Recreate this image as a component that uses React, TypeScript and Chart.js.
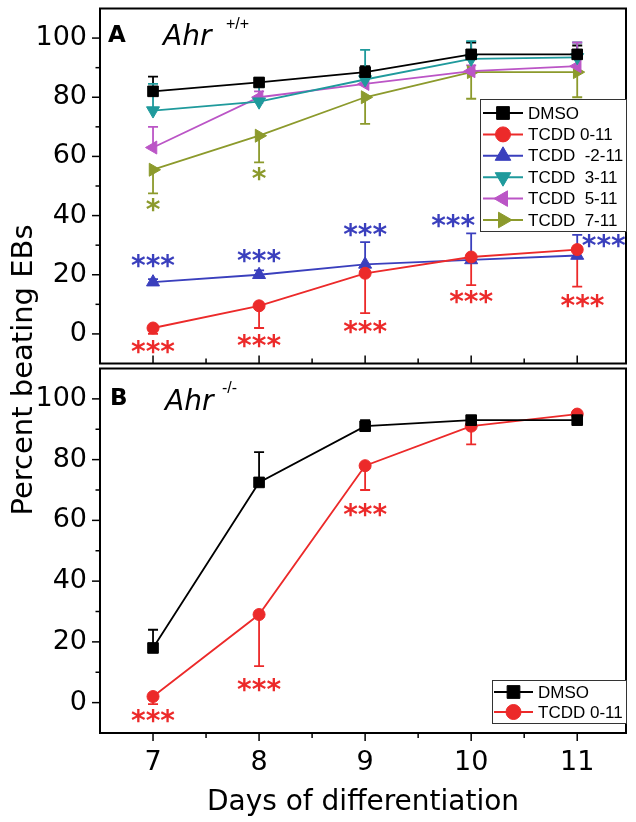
import React, { useEffect, useRef } from 'react';
import { Chart, registerables } from 'chart.js';

Chart.register(...registerables);

// ---------- data ----------
const days = [7, 8, 9, 10, 11];
const xTickLabels = ['7', '8', '9', '10', '11'];
const yTickValues = [0, 20, 40, 60, 80, 100];
const yTickLabels = ['0', '20', '40', '60', '80', '100'];

// Panel A: Ahr +/+
const dmsoA = [82, 85, 88.5, 94.5, 94.5];
const tcdd0A = [2, 9.5, 20.5, 26, 28.5];
const tcddM2A = [17.5, 20, 23.5, 25, 26.5];
const tcdd3A = [75.5, 78.5, 86, 93, 93.5];
const tcdd5A = [63, 80, 84.5, 88.8, 90.5];
const tcdd7A = [55.5, 67, 80, 88.5, 88.5];

// signed error bars (+ up, - down)
const dmsoAErr = [5, 1.5, 2, 4, 3];
const tcdd0AErr = [-2, -7.5, -13.5, -9.5, -12.5];
const tcddM2AErr = [1, 1.5, 7.5, 9, 7];
const tcdd3AErr = [9, 5, 10, 6, 5];
const tcdd5AErr = [7, 2, 2, 2, 8];
const tcdd7AErr = [-8, -9, -9, -9, -8.5];

// Panel B: Ahr -/-
const dmsoB = [18, 72.5, 91, 93, 93];
const tcdd0B = [2, 29, 78, 91, 95];
const dmsoBErr = [6, 10, 2, 1, 1];
const tcdd0BErr = [-2.5, -17, -8, -6, -1];

const legendA = ['DMSO', 'TCDD 0-11', 'TCDD  -2-11', 'TCDD  3-11', 'TCDD  5-11', 'TCDD  7-11'];
const legendB = ['DMSO', 'TCDD 0-11'];

// significance marks: text, day, value, series index
const starTextA = ['*', '*', '***', '***', '***', '***', '***', '***', '***', '***', '***', '***'];
const starDayA = [7, 8, 7, 8, 9, 9.83, 11.25, 7, 8, 9, 10, 11.05];
const starValA = [44, 54.5, 25, 27, 35.5, 38.7, 32, -4, -2, 3, 13, 11.5];
const starSerA = [5, 5, 2, 2, 2, 2, 2, 1, 1, 1, 1, 1];

const starTextB = ['***', '***', '***'];
const starDayB = [7, 8, 9];
const starValB = [-4, 6.4, 64];
const starSerB = [1, 1, 1];

// ---------- styles ----------
const FONT = 'DejaVu Sans';
const LFONT = 'Liberation Sans';
const BLACK = '#000000';
const RED = '#ec2a2a';
const BLUE = '#3a3fbd';
const TEAL = '#1f9a9c';
const MAGENTA = '#bb55c6';
const OLIVE = '#8c9a2c';

type Series = {
  label: string;
  values: number[];
  err: number[];
  color: string;
  style: 'rect' | 'circle' | 'triangle';
  rot: number;
  r: number;
};

const seriesA: Series[] = [
  { label: legendA[0], values: dmsoA, err: dmsoAErr, color: BLACK, style: 'rect', rot: 0, r: 7.5 },
  { label: legendA[1], values: tcdd0A, err: tcdd0AErr, color: RED, style: 'circle', rot: 0, r: 6 },
  { label: legendA[2], values: tcddM2A, err: tcddM2AErr, color: BLUE, style: 'triangle', rot: 0, r: 7.5 },
  { label: legendA[3], values: tcdd3A, err: tcdd3AErr, color: TEAL, style: 'triangle', rot: 180, r: 7.5 },
  { label: legendA[4], values: tcdd5A, err: tcdd5AErr, color: MAGENTA, style: 'triangle', rot: 270, r: 7.5 },
  { label: legendA[5], values: tcdd7A, err: tcdd7AErr, color: OLIVE, style: 'triangle', rot: 90, r: 7.5 },
];

const seriesB: Series[] = [
  { label: legendB[0], values: dmsoB, err: dmsoBErr, color: BLACK, style: 'rect', rot: 0, r: 7.5 },
  { label: legendB[1], values: tcdd0B, err: tcdd0BErr, color: RED, style: 'circle', rot: 0, r: 6 },
];

function drawMarker(ctx: CanvasRenderingContext2D, style: string, x: number, y: number, r: number, rot: number, color: string) {
  ctx.save();
  ctx.fillStyle = color;
  ctx.strokeStyle = color;
  ctx.lineWidth = 1;
  ctx.beginPath();
  if (style === 'rect') {
    const s = r * Math.SQRT1_2;
    ctx.rect(x - s, y - s, 2 * s, 2 * s);
  } else if (style === 'circle') {
    ctx.arc(x, y, r, 0, Math.PI * 2);
  } else {
    let a = (rot * Math.PI) / 180;
    ctx.moveTo(x + Math.sin(a) * r, y - Math.cos(a) * r);
    for (let k = 0; k < 2; k++) {
      a += (2 * Math.PI) / 3;
      ctx.lineTo(x + Math.sin(a) * r, y - Math.cos(a) * r);
    }
    ctx.closePath();
  }
  ctx.fill();
  ctx.stroke();
  ctx.restore();
}

type DecorCfg = {
  series: Series[];
  starText: string[];
  starDay: number[];
  starVal: number[];
  starSer: number[];
  xTicksInward: boolean;
  legend: { x0: number; y0: number; x1: number; y1: number; row0: number; step: number; lx0: number; lx1: number; tx: number };
  letter: string;
  letterPos: [number, number];
  genePos: [number, number];
  sup: string;
  supPos: [number, number];
};

function makeDecor(cfg: DecorCfg) {
  return {
    id: 'decor' + cfg.letter,
    beforeDatasetsDraw(chart: any) {
      const ctx: CanvasRenderingContext2D = chart.ctx;
      const xs = chart.scales.x;
      const ys = chart.scales.y;
      ctx.save();
      ctx.lineWidth = 1.8;
      cfg.series.forEach((s) => {
        ctx.strokeStyle = s.color;
        s.values.forEach((v, i) => {
          const e = s.err[i];
          const x = xs.getPixelForValue(days[i]);
          const y0 = ys.getPixelForValue(v);
          const y1 = ys.getPixelForValue(v + e);
          ctx.beginPath();
          ctx.moveTo(x, y0);
          ctx.lineTo(x, y1);
          ctx.moveTo(x - 5, y1);
          ctx.lineTo(x + 5, y1);
          ctx.stroke();
        });
      });
      ctx.restore();
    },
    afterDraw(chart: any) {
      const ctx: CanvasRenderingContext2D = chart.ctx;
      const xs = chart.scales.x;
      const ys = chart.scales.y;
      const ca = chart.chartArea;
      ctx.save();
      // frame
      ctx.strokeStyle = '#000';
      ctx.lineWidth = 2;
      ctx.strokeRect(ca.left, ca.top, ca.right - ca.left, ca.bottom - ca.top);
      // y ticks (outward)
      ctx.lineWidth = 1.5;
      for (let v = 0; v <= 100; v += 10) {
        const y = ys.getPixelForValue(v);
        const len = v % 20 === 0 ? 8 : 4.5;
        ctx.beginPath();
        ctx.moveTo(ca.left, y);
        ctx.lineTo(ca.left - len, y);
        ctx.stroke();
      }
      // x ticks
      for (let d = 7; d <= 11.01; d += 0.5) {
        const x = xs.getPixelForValue(d);
        const len = Number.isInteger(d) ? 8 : 5;
        ctx.beginPath();
        ctx.moveTo(x, ca.bottom);
        ctx.lineTo(x, cfg.xTicksInward ? ca.bottom - len : ca.bottom + len);
        ctx.stroke();
      }
      // significance marks
      ctx.font = `bold 28px "${FONT}"`;
      ctx.textAlign = 'center';
      ctx.textBaseline = 'alphabetic';
      cfg.starText.forEach((t, i) => {
        ctx.fillStyle = cfg.series[cfg.starSer[i]].color;
        const x = xs.getPixelForValue(cfg.starDay[i]);
        const y = ys.getPixelForValue(cfg.starVal[i]);
        ctx.fillText(t, x, y + 15.5);
      });
      // legend box
      const L = cfg.legend;
      ctx.fillStyle = '#fff';
      ctx.fillRect(L.x0, L.y0, L.x1 - L.x0, L.y1 - L.y0);
      ctx.strokeStyle = '#333';
      ctx.lineWidth = 1;
      ctx.strokeRect(L.x0 + 0.5, L.y0 + 0.5, L.x1 - L.x0, L.y1 - L.y0);
      ctx.font = `17px "${LFONT}"`;
      ctx.textAlign = 'left';
      ctx.textBaseline = 'middle';
      cfg.series.forEach((s, i) => {
        const y = L.row0 + i * L.step;
        ctx.strokeStyle = s.color;
        ctx.lineWidth = 2;
        ctx.beginPath();
        ctx.moveTo(L.lx0, y);
        ctx.lineTo(L.lx1, y);
        ctx.stroke();
        const mr = s.style === 'circle' ? 7.5 : 9;
        drawMarker(ctx, s.style, (L.lx0 + L.lx1) / 2, y, mr, s.rot, s.color);
        ctx.fillStyle = '#000';
        ctx.fillText(s.label, L.tx, y + 1);
      });
      // panel labels
      ctx.fillStyle = '#000';
      ctx.textBaseline = 'alphabetic';
      ctx.font = `bold 23px "${FONT}"`;
      ctx.fillText(cfg.letter, cfg.letterPos[0], cfg.letterPos[1]);
      ctx.font = `oblique 28px "${FONT}"`;
      ctx.fillText('Ahr', cfg.genePos[0], cfg.genePos[1]);
      ctx.font = `16px "${LFONT}"`;
      ctx.fillText(cfg.sup, cfg.supPos[0], cfg.supPos[1]);
      ctx.restore();
    },
  };
}

function zeroPad(sc: any) {
  sc.paddingTop = 0;
  sc.paddingBottom = 0;
  sc.paddingLeft = 0;
  sc.paddingRight = 0;
}

function buildChart(canvas: HTMLCanvasElement, cfg: DecorCfg, padding: any, showX: boolean) {
  const yScale: any = {
    type: 'linear',
    min: -10,
    max: 110,
    afterBuildTicks: (sc: any) => {
      sc.ticks = yTickValues.map((v) => ({ value: v }));
    },
    afterFit: (sc: any) => {
      sc.width = 100;
      zeroPad(sc);
    },
    ticks: {
      callback: (v: number) => yTickLabels[yTickValues.indexOf(v)] ?? '',
      font: { family: FONT, size: 27 },
      color: '#000',
      padding: 13,
    },
    grid: { display: false, drawTicks: false },
    border: { display: false },
  };
  const xScale: any = showX
    ? {
        type: 'linear',
        min: 6.5,
        max: 11.46,
        afterBuildTicks: (sc: any) => {
          sc.ticks = days.map((v) => ({ value: v }));
        },
        afterFit: (sc: any) => {
          sc.height = 89;
          zeroPad(sc);
        },
        ticks: {
          callback: (v: number) => xTickLabels[days.indexOf(v)] ?? '',
          font: { family: FONT, size: 27 },
          color: '#000',
          padding: 14,
          autoSkip: false,
          maxRotation: 0,
        },
        grid: { display: false, drawTicks: false },
        border: { display: false },
        title: {
          display: true,
          text: 'Days of differentiation',
          font: { family: FONT, size: 28 },
          color: '#000',
          padding: { top: 0, bottom: 2 },
        },
      }
    : { type: 'linear', min: 6.5, max: 11.46, display: false };

  return new Chart(canvas, {
    type: 'line',
    data: {
      datasets: cfg.series.map((s) => ({
        label: s.label,
        data: days.map((d, i) => ({ x: d, y: s.values[i] })),
        borderColor: s.color,
        backgroundColor: s.color,
        borderWidth: 1.8,
        pointStyle: s.style,
        pointRotation: s.rot,
        pointRadius: s.r,
        pointHoverRadius: s.r,
        pointBorderWidth: 1,
        tension: 0,
        fill: false,
      })),
    },
    options: {
      animation: false,
      responsive: true,
      maintainAspectRatio: false,
      events: [],
      layout: { padding },
      plugins: { legend: { display: false }, tooltip: { enabled: false }, title: { display: false } },
      scales: { x: xScale, y: yScale },
    } as any,
    plugins: [makeDecor(cfg) as any],
  });
}

export default function App() {
  const refA = useRef<HTMLCanvasElement>(null);
  const refB = useRef<HTMLCanvasElement>(null);

  useEffect(() => {
    document.body.style.margin = '0';
    const cfgA: DecorCfg = {
      series: seriesA,
      starText: starTextA,
      starDay: starDayA,
      starVal: starValA,
      starSer: starSerA,
      xTicksInward: true,
      legend: { x0: 480, y0: 99, x1: 626, y1: 231, row0: 113, step: 21.4, lx0: 483, lx1: 523, tx: 528 },
      letter: 'A',
      letterPos: [108, 42],
      genePos: [163, 45],
      sup: '+/+',
      supPos: [226, 29],
    };
    const cfgB: DecorCfg = {
      series: seriesB,
      starText: starTextB,
      starDay: starDayB,
      starVal: starValB,
      starSer: starSerB,
      xTicksInward: false,
      legend: { x0: 492, y0: 320, x1: 626, y1: 363, row0: 332, step: 20, lx0: 494, lx1: 533, tx: 538 },
      letter: 'B',
      letterPos: [110, 45],
      genePos: [165, 50],
      sup: '-/-',
      supPos: [222, 33],
    };
    const a = buildChart(refA.current!, cfgA, { top: 5, right: 10, bottom: 4, left: 0 }, false);
    const b = buildChart(refB.current!, cfgB, { top: 8, right: 10, bottom: 0, left: 0 }, true);
    return () => {
      a.destroy();
      b.destroy();
    };
  }, []);

  return (
    <div style={{ position: 'fixed', left: 0, top: 0, width: 636, height: 822, background: '#fff', overflow: 'hidden' }}>
      <div style={{ position: 'absolute', left: 0, top: 0, width: 636, height: 372 }}>
        <canvas ref={refA} />
      </div>
      <div style={{ position: 'absolute', left: 0, top: 360, width: 636, height: 462 }}>
        <canvas ref={refB} />
      </div>
      <div
        style={{
          position: 'absolute',
          left: 22 - 200,
          top: 370 - 20,
          width: 400,
          height: 40,
          lineHeight: '40px',
          textAlign: 'center',
          fontFamily: FONT,
          fontSize: 29,
          color: '#000',
          transform: 'rotate(-90deg)',
          transformOrigin: '50% 50%',
          whiteSpace: 'nowrap',
        }}
      >
        Percent beating EBs
      </div>
    </div>
  );
}
